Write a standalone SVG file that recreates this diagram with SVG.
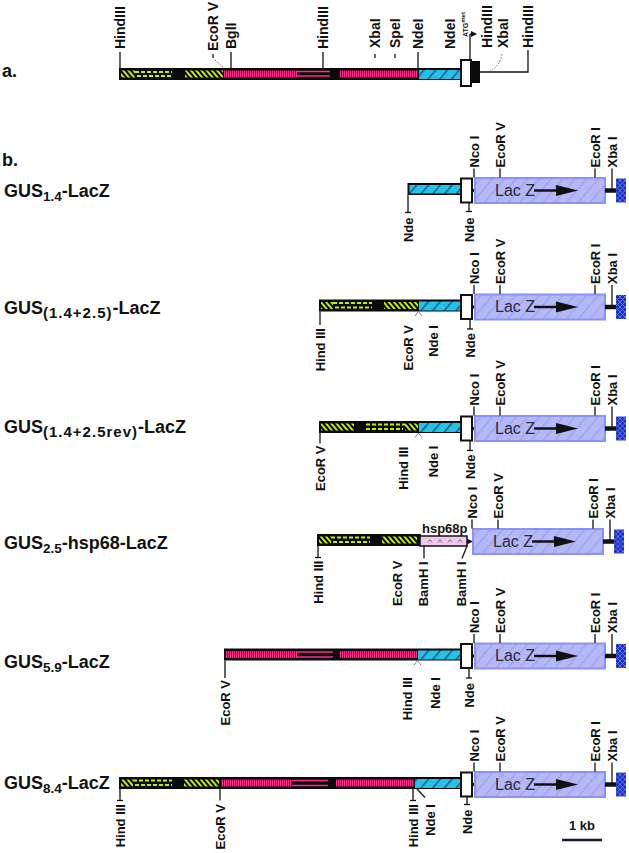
<svg xmlns="http://www.w3.org/2000/svg" width="629" height="853" viewBox="0 0 629 853">
<style>
.lb{font-family:"Liberation Sans",Arial,sans-serif;font-weight:bold;font-size:13px;fill:#111}
.la{font-family:"Liberation Sans",Arial,sans-serif;font-weight:bold;font-size:14px;fill:#111}
.tt{font-family:"Liberation Sans",Arial,sans-serif;font-weight:bold;font-size:18px;fill:#111}
.sb{font-size:13.5px}
.sw{font-size:15px;letter-spacing:1px}
.tk{stroke:#111;stroke-width:1.3;fill:none}
.dot{stroke:#555;stroke-width:0.9;fill:none;stroke-dasharray:1.5 1.5}
.bar{fill:#0a0a0a}
.wb{fill:#fff;stroke:#111;stroke-width:2}
.lacz{fill:url(#lz);stroke:#8a92f4;stroke-width:2}
.lzt{font-family:"Liberation Sans",Arial,sans-serif;font-size:16px;fill:#2a2a3a}
.dash{stroke:#c6ec00;stroke-width:1.8;stroke-dasharray:4 2}
.pkl{stroke:#ff2a8c;stroke-width:1.4}
.car{stroke:#666;stroke-width:0.8;fill:none}
</style>
<defs>
<pattern id="yh" width="4" height="10" patternUnits="userSpaceOnUse" patternTransform="rotate(-40)"><rect width="4" height="10" fill="#000"/><rect width="2" height="10" fill="#c6ec00"/></pattern>
<pattern id="pk" width="2" height="10" patternUnits="userSpaceOnUse"><rect width="2" height="10" fill="#40001c"/><rect width="1.3" height="10" fill="#ff2a8c"/></pattern>
<pattern id="cy" width="9" height="10" patternUnits="userSpaceOnUse" patternTransform="rotate(40)"><rect width="9" height="10" fill="#23c2e6"/><rect width="1.4" height="10" fill="#1d4f86"/></pattern>
<pattern id="lz" width="9" height="10" patternUnits="userSpaceOnUse" patternTransform="rotate(40)"><rect width="9" height="10" fill="#b4b8f6"/><rect width="1.3" height="10" fill="#9ca3f0"/></pattern>
<pattern id="bx" width="5" height="5" patternUnits="userSpaceOnUse"><rect width="5" height="5" fill="#1a2fc4"/><path d="M0,0L5,5M5,0L0,5" stroke="#6a7cec" stroke-width="0.9"/></pattern>
<marker id="ah" viewBox="0 0 6 6" refX="5" refY="3" markerWidth="5" markerHeight="5" orient="auto"><path d="M0,0L6,3L0,6z" fill="#111"/></marker>
</defs>
<rect width="629" height="853" fill="#fff"/>

<!-- section a -->
<text class="tt" x="2" y="77">a.</text>
<g id="map-a">
<rect class="bar" x="119" y="68" width="342" height="12"/>
<rect x="121" y="70.5" width="14" height="7" fill="url(#yh)"/>
<line class="dash" x1="135" y1="72" x2="172" y2="72"/><line class="dash" x1="137" y1="76" x2="172" y2="76"/>
<rect x="185" y="70.5" width="38" height="7" fill="url(#yh)"/>
<rect x="224" y="70.5" width="73" height="7" fill="url(#pk)"/>
<line class="pkl" x1="297" y1="71.5" x2="330" y2="71.5"/><line class="pkl" x1="297" y1="76" x2="330" y2="76"/>
<rect x="340" y="70.5" width="78" height="7" fill="url(#pk)"/>
<rect x="419" y="70" width="42" height="9" fill="url(#cy)"/>
<rect class="wb" x="461" y="60" width="10" height="26"/>
<rect x="471" y="61" width="9" height="22" fill="#0a0a0a"/>
<polyline class="tk" points="480,72 528,72 528,50"/>
</g>
<g id="labels-a" class="tk">
<line x1="120" y1="52" x2="120" y2="68"/>
<line x1="213" y1="54" x2="213" y2="58"/>
<line class="dot" x1="215" y1="60" x2="224" y2="68"/>
<line x1="231" y1="52" x2="231" y2="68"/>
<line x1="323" y1="52" x2="323" y2="68"/>
<line x1="375" y1="54" x2="375" y2="58"/>
<line x1="395" y1="54" x2="395" y2="58"/>
<line x1="418" y1="52" x2="418" y2="68"/>
<line x1="470" y1="60" x2="470" y2="34"/>
<line x1="470" y1="34" x2="476" y2="34" marker-end="url(#ah)"/>
<path class="dot" d="M502,54 Q500,66 490,71"/>
</g>
<g id="text-a">
<text class="la" transform="translate(125,49) rotate(-90)">HindIII</text>
<text class="la" transform="translate(218,51) rotate(-90)">EcoR V</text>
<text class="la" transform="translate(236,49) rotate(-90)">BglI</text>
<text class="la" transform="translate(328,49) rotate(-90)">HindIII</text>
<text class="la" transform="translate(380,48) rotate(-90)">XbaI</text>
<text class="la" transform="translate(400,48) rotate(-90)">SpeI</text>
<text class="la" transform="translate(423,49) rotate(-90)">NdeI</text>
<text class="la" transform="translate(455,49) rotate(-90)">NdeI</text>
<text transform="translate(468,37) rotate(-90)" font-family="Liberation Sans,Arial,sans-serif" font-size="7" font-weight="bold" fill="#111">ATG<tspan font-size="6" dy="-3">met</tspan></text>
<text class="la" transform="translate(492,48) rotate(-90)">HindIII</text>
<text class="la" transform="translate(508,48) rotate(-90)">XbaI</text>
<text class="la" transform="translate(533,48) rotate(-90)">HindIII</text>
</g>

<text class="tt" x="2" y="166">b.</text>

<!-- Row 1 -->
<text class="tt" x="4" y="197">GUS<tspan class="sb" dy="4">1.4</tspan><tspan dy="-4">-LacZ</tspan></text>
<g id="row1" transform="translate(0,190.5)">
<rect class="bar" x="407.5" y="-7.5" width="54" height="12"/>
<rect x="409.5" y="-5.5" width="52" height="8.5" fill="url(#cy)"/>
<rect class="wb" x="461" y="-12" width="11" height="24"/>
<polygon points="472,-2.5 476,0 472,2.5" fill="#111"/>
<rect class="lacz" x="475" y="-12.5" width="130" height="25"/>
<text class="lzt" x="495" y="5">Lac Z</text>
<line x1="534" y1="0" x2="560" y2="0" stroke="#111" stroke-width="2.5"/>
<polygon points="556,-5.5 578,0 556,5.5" fill="#111"/>
<line x1="605" y1="0" x2="616" y2="0" stroke="#111" stroke-width="4.5"/>
<rect x="616" y="-12" width="10" height="24" fill="url(#bx)"/>
<g class="tk"><line x1="474" y1="-22" x2="474" y2="-13"/><line x1="500" y1="-22" x2="500" y2="-13"/><line x1="595" y1="-22" x2="595" y2="-13"/><line x1="612" y1="-22" x2="612" y2="0"/>
<line x1="408" y1="4.5" x2="408" y2="22"/><line x1="405" y1="22" x2="411" y2="22"/>
<line x1="469" y1="12" x2="469" y2="21"/><line x1="466" y1="21" x2="472" y2="21"/></g>
<text class="lb" transform="translate(478.6,-23) rotate(-90)">Nco I</text>
<text class="lb" transform="translate(504.6,-23) rotate(-90)">EcoR V</text>
<text class="lb" transform="translate(599.6,-23) rotate(-90)">EcoR I</text>
<text class="lb" transform="translate(616.6,-23) rotate(-90)">Xba I</text>
<text class="lb" text-anchor="end" transform="translate(412.6,27) rotate(-90)">Nde</text>
<text class="lb" text-anchor="end" transform="translate(473.6,27) rotate(-90)">Nde</text>
</g>

<!-- Row 2 -->
<text class="tt" x="4" y="314">GUS<tspan class="sw" dy="4">(1.4+2.5)</tspan><tspan dy="-4">-LacZ</tspan></text>
<g id="row2" transform="translate(0,307)">
<rect class="bar" x="319" y="-7.5" width="142" height="12"/>
<rect x="321" y="-5" width="12" height="7" fill="url(#yh)"/>
<line class="dash" x1="333" y1="-4" x2="372" y2="-4"/><line class="dash" x1="335" y1="0.5" x2="372" y2="0.5"/>
<rect x="384" y="-5" width="34" height="7" fill="url(#yh)"/>
<rect x="419" y="-5.5" width="42" height="9" fill="url(#cy)"/>
<polyline class="car" points="415,9 418.5,4.5 422,9"/>
<rect class="wb" x="461" y="-12" width="11" height="24"/>
<polygon points="472,-2.5 476,0 472,2.5" fill="#111"/>
<rect class="lacz" x="475" y="-12.5" width="130" height="25"/>
<text class="lzt" x="495" y="5">Lac Z</text>
<line x1="534" y1="0" x2="560" y2="0" stroke="#111" stroke-width="2.5"/>
<polygon points="556,-5.5 578,0 556,5.5" fill="#111"/>
<line x1="605" y1="0" x2="616" y2="0" stroke="#111" stroke-width="4.5"/>
<rect x="616" y="-12" width="10" height="24" fill="url(#bx)"/>
<g class="tk"><line x1="474" y1="-22" x2="474" y2="-13"/><line x1="500" y1="-22" x2="500" y2="-13"/><line x1="595" y1="-22" x2="595" y2="-13"/><line x1="612" y1="-22" x2="612" y2="0"/>
<line x1="320" y1="4.5" x2="320" y2="18"/>
<line x1="470" y1="12" x2="470" y2="22"/><line x1="467" y1="22" x2="473" y2="22"/></g>
<text class="lb" transform="translate(478.6,-23) rotate(-90)">Nco I</text>
<text class="lb" transform="translate(504.6,-23) rotate(-90)">EcoR V</text>
<text class="lb" transform="translate(599.6,-23) rotate(-90)">EcoR I</text>
<text class="lb" transform="translate(616.6,-23) rotate(-90)">Xba I</text>
<text class="lb" text-anchor="end" transform="translate(324.6,21) rotate(-90)">Hind III</text>
<text class="lb" text-anchor="end" transform="translate(412.6,18) rotate(-90)">EcoR V</text>
<text class="lb" text-anchor="end" transform="translate(437.6,18) rotate(-90)">Nde I</text>
<text class="lb" text-anchor="end" transform="translate(474.6,26) rotate(-90)">Nde</text>
</g>

<!-- Row 3 -->
<text class="tt" x="4" y="433">GUS<tspan class="sw" dy="4">(1.4+2.5rev)</tspan><tspan dy="-4">-LacZ</tspan></text>
<g id="row3" transform="translate(0,428.5)">
<rect class="bar" x="319" y="-7.5" width="142" height="12"/>
<rect x="321" y="-5" width="33" height="7" fill="url(#yh)"/>
<line class="dash" x1="366" y1="-4" x2="405" y2="-4"/><line class="dash" x1="366" y1="0.5" x2="403" y2="0.5"/>
<rect x="405" y="-5" width="13" height="7" fill="url(#yh)"/>
<rect x="419" y="-5.5" width="42" height="9" fill="url(#cy)"/>
<polyline class="car" points="415,9 418.5,4.5 422,9"/>
<rect class="wb" x="461" y="-12" width="11" height="24"/>
<polygon points="472,-2.5 476,0 472,2.5" fill="#111"/>
<rect class="lacz" x="475" y="-12.5" width="130" height="25"/>
<text class="lzt" x="495" y="5">Lac Z</text>
<line x1="534" y1="0" x2="560" y2="0" stroke="#111" stroke-width="2.5"/>
<polygon points="556,-5.5 578,0 556,5.5" fill="#111"/>
<line x1="605" y1="0" x2="616" y2="0" stroke="#111" stroke-width="4.5"/>
<rect x="616" y="-12" width="10" height="24" fill="url(#bx)"/>
<g class="tk"><line x1="474" y1="-22" x2="474" y2="-13"/><line x1="500" y1="-22" x2="500" y2="-13"/><line x1="595" y1="-22" x2="595" y2="-13"/><line x1="612" y1="-22" x2="612" y2="0"/>
<line x1="320" y1="4.5" x2="320" y2="15"/>
<line x1="470" y1="12" x2="470" y2="22"/><line x1="467" y1="22" x2="473" y2="22"/></g>
<text class="lb" transform="translate(478.6,-23) rotate(-90)">Nco I</text>
<text class="lb" transform="translate(504.6,-23) rotate(-90)">EcoR V</text>
<text class="lb" transform="translate(599.6,-23) rotate(-90)">EcoR I</text>
<text class="lb" transform="translate(616.6,-23) rotate(-90)">Xba I</text>
<text class="lb" text-anchor="end" transform="translate(324.6,17) rotate(-90)">EcoR V</text>
<text class="lb" text-anchor="end" transform="translate(407.6,18) rotate(-90)">Hind III</text>
<text class="lb" text-anchor="end" transform="translate(437.6,17) rotate(-90)">Nde I</text>
<text class="lb" text-anchor="end" transform="translate(474.6,26) rotate(-90)">Nde</text>
</g>

<!-- Row 4 -->
<text class="tt" x="4" y="549">GUS<tspan class="sb" dy="4">2.5</tspan><tspan dy="-4">-hsp68-LacZ</tspan></text>
<g id="row4" transform="translate(0,541.5)">
<rect class="bar" x="317" y="-7.5" width="104" height="12"/>
<rect x="319" y="-5" width="12" height="7" fill="url(#yh)"/>
<line class="dash" x1="331" y1="-4" x2="370" y2="-4"/><line class="dash" x1="333" y1="0.5" x2="370" y2="0.5"/>
<rect x="382" y="-5" width="35" height="7" fill="url(#yh)"/>
<rect x="420" y="-5.5" width="47" height="10" fill="#f2c6ee" stroke="#111" stroke-width="1.5"/>
<g class="car" stroke="#6a3a6a"><polyline points="428,1 430,-2 432,1"/><polyline points="438,1 440,-2 442,1"/><polyline points="448,1 450,-2 452,1"/><polyline points="458,1 460,-2 462,1"/></g>
<polygon points="467,-3 473,0 467,3" fill="#111"/>
<text class="lb" x="422" y="-9">hsp68p</text>
<g transform="translate(-2,0)">
<rect class="lacz" x="475" y="-12.5" width="130" height="25"/>
<text class="lzt" x="495" y="5">Lac Z</text>
<line x1="534" y1="0" x2="560" y2="0" stroke="#111" stroke-width="2.5"/>
<polygon points="556,-5.5 578,0 556,5.5" fill="#111"/>
<line x1="605" y1="0" x2="616" y2="0" stroke="#111" stroke-width="4.5"/>
<rect x="616" y="-12" width="10" height="24" fill="url(#bx)"/>
<g class="tk"><line x1="474" y1="-22" x2="474" y2="-13"/><line x1="500" y1="-22" x2="500" y2="-13"/><line x1="595" y1="-22" x2="595" y2="-13"/><line x1="612" y1="-22" x2="612" y2="0"/></g>
<text class="lb" transform="translate(478.6,-23) rotate(-90)">Nco I</text>
<text class="lb" transform="translate(504.6,-23) rotate(-90)">EcoR V</text>
<text class="lb" transform="translate(599.6,-23) rotate(-90)">EcoR I</text>
<text class="lb" transform="translate(616.6,-23) rotate(-90)">Xba I</text>
</g>
<g class="tk"><line x1="318" y1="4.5" x2="318" y2="16"/><line x1="315" y1="16" x2="321" y2="16"/>
<line x1="424" y1="4.5" x2="424" y2="17"/>
<line x1="467" y1="4.5" x2="462" y2="17"/></g>
<text class="lb" text-anchor="end" transform="translate(322.6,19) rotate(-90)">Hind III</text>
<text class="lb" text-anchor="end" transform="translate(401.6,19) rotate(-90)">EcoR V</text>
<text class="lb" text-anchor="end" transform="translate(427.6,20) rotate(-90)">BamH I</text>
<text class="lb" text-anchor="end" transform="translate(465.6,20) rotate(-90)">BamH I</text>
</g>

<!-- Row 5 -->
<text class="tt" x="4" y="668">GUS<tspan class="sb" dy="4">5.9</tspan><tspan dy="-4">-LacZ</tspan></text>
<g id="row5" transform="translate(0,656)">
<rect class="bar" x="224" y="-7.5" width="237" height="12"/>
<rect x="226" y="-5" width="71" height="7" fill="url(#pk)"/>
<line class="pkl" x1="297" y1="-4" x2="333" y2="-4"/><line class="pkl" x1="297" y1="1" x2="333" y2="1"/>
<rect x="340" y="-5" width="77" height="7" fill="url(#pk)"/>
<rect x="418" y="-5.5" width="43" height="9" fill="url(#cy)"/>
<polyline class="car" points="414,9 417.5,4.5 421,9"/>
<rect class="wb" x="461" y="-12" width="11" height="24"/>
<polygon points="472,-2.5 476,0 472,2.5" fill="#111"/>
<rect class="lacz" x="475" y="-12.5" width="130" height="25"/>
<text class="lzt" x="495" y="5">Lac Z</text>
<line x1="534" y1="0" x2="560" y2="0" stroke="#111" stroke-width="2.5"/>
<polygon points="556,-5.5 578,0 556,5.5" fill="#111"/>
<line x1="605" y1="0" x2="616" y2="0" stroke="#111" stroke-width="4.5"/>
<rect x="616" y="-12" width="10" height="24" fill="url(#bx)"/>
<g class="tk"><line x1="474" y1="-22" x2="474" y2="-13"/><line x1="500" y1="-22" x2="500" y2="-13"/><line x1="595" y1="-22" x2="595" y2="-13"/><line x1="612" y1="-22" x2="612" y2="0"/>
<line x1="225" y1="4.5" x2="225" y2="22"/>
<line x1="469" y1="12" x2="469" y2="22"/><line x1="466" y1="22" x2="472" y2="22"/></g>
<text class="lb" transform="translate(478.6,-23) rotate(-90)">Nco I</text>
<text class="lb" transform="translate(504.6,-23) rotate(-90)">EcoR V</text>
<text class="lb" transform="translate(599.6,-23) rotate(-90)">EcoR I</text>
<text class="lb" transform="translate(616.6,-23) rotate(-90)">Xba I</text>
<text class="lb" text-anchor="end" transform="translate(229.6,24) rotate(-90)">EcoR V</text>
<text class="lb" text-anchor="end" transform="translate(411.6,21) rotate(-90)">Hind III</text>
<text class="lb" text-anchor="end" transform="translate(439.6,21) rotate(-90)">Nde I</text>
<text class="lb" text-anchor="end" transform="translate(473.6,27) rotate(-90)">Nde</text>
</g>

<!-- Row 6 -->
<text class="tt" x="4" y="789">GUS<tspan class="sb" dy="4">8.4</tspan><tspan dy="-4">-LacZ</tspan></text>
<g id="row6" transform="translate(0,784.5)">
<rect class="bar" x="119" y="-7.5" width="342" height="12"/>
<rect x="121" y="-5" width="12" height="7" fill="url(#yh)"/>
<line class="dash" x1="133" y1="-4" x2="172" y2="-4"/><line class="dash" x1="135" y1="0.5" x2="172" y2="0.5"/>
<rect x="184" y="-5" width="35" height="7" fill="url(#yh)"/>
<rect x="221" y="-5" width="71" height="7" fill="url(#pk)"/>
<line class="pkl" x1="292" y1="-4" x2="328" y2="-4"/><line class="pkl" x1="292" y1="1" x2="328" y2="1"/>
<rect x="336" y="-5" width="78" height="7" fill="url(#pk)"/>
<rect x="415" y="-5.5" width="46" height="9" fill="url(#cy)"/>
<rect class="wb" x="461" y="-12" width="11" height="24"/>
<polygon points="472,-2.5 476,0 472,2.5" fill="#111"/>
<rect class="lacz" x="475" y="-12.5" width="130" height="25"/>
<text class="lzt" x="495" y="5">Lac Z</text>
<line x1="534" y1="0" x2="560" y2="0" stroke="#111" stroke-width="2.5"/>
<polygon points="556,-5.5 578,0 556,5.5" fill="#111"/>
<line x1="605" y1="0" x2="616" y2="0" stroke="#111" stroke-width="4.5"/>
<rect x="616" y="-12" width="10" height="24" fill="url(#bx)"/>
<g class="tk"><line x1="474" y1="-22" x2="474" y2="-13"/><line x1="500" y1="-22" x2="500" y2="-13"/><line x1="595" y1="-22" x2="595" y2="-13"/><line x1="612" y1="-22" x2="612" y2="0"/>
<line x1="120" y1="4.5" x2="120" y2="16"/><line x1="117" y1="16" x2="123" y2="16"/>
<line x1="220" y1="4.5" x2="220" y2="16"/>
<line x1="413" y1="4.5" x2="413" y2="16"/><line x1="410" y1="16" x2="416" y2="16"/>
<line x1="417" y1="4.5" x2="425" y2="13"/>
<line x1="467" y1="12" x2="467" y2="20"/><line x1="464" y1="20" x2="470" y2="20"/></g>
<text class="lb" transform="translate(478.6,-23) rotate(-90)">Nco I</text>
<text class="lb" transform="translate(504.6,-23) rotate(-90)">EcoR V</text>
<text class="lb" transform="translate(599.6,-23) rotate(-90)">EcoR I</text>
<text class="lb" transform="translate(616.6,-23) rotate(-90)">Xba I</text>
<text class="lb" text-anchor="end" transform="translate(124.6,19.5) rotate(-90)">Hind III</text>
<text class="lb" text-anchor="end" transform="translate(224.6,19.5) rotate(-90)">EcoR V</text>
<text class="lb" text-anchor="end" transform="translate(417.6,19.5) rotate(-90)">Hind III</text>
<text class="lb" text-anchor="end" transform="translate(434.6,19.5) rotate(-90)">Nde I</text>
<text class="lb" text-anchor="end" transform="translate(471.6,25) rotate(-90)">Nde</text>
</g>

<g id="scale">
<text class="lb" x="569" y="830">1 kb</text>
<line x1="562" y1="840" x2="602" y2="840" stroke="#1a1a2a" stroke-width="2.5"/>
</g>
</svg>
